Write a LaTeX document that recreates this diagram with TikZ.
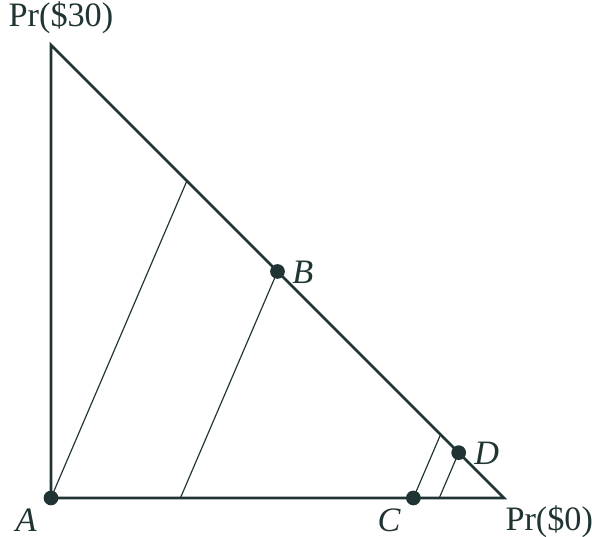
\documentclass[tikz,border=0pt]{standalone}
\usepackage{fontspec}
\setmainfont{Liberation Serif}
\definecolor{ink}{RGB}{33,52,52}
\begin{document}
\begin{tikzpicture}[
    x=8cm, y=8cm,
    edge/.style={draw=ink, line width=1.35pt, line join=miter},
    indiff/.style={draw=ink, line width=0.6pt},
    dot/.style={circle, fill=ink, inner sep=0pt, minimum size=7.4pt},
    lbl/.style={text=ink, font=\fontsize{17.2}{20}\selectfont, inner sep=0pt},
    pt/.style={text=ink, font=\fontsize{17.2}{20}\selectfont\itshape, inner sep=0pt}
]
\useasboundingbox (-0.1126,-0.0861) rectangle (1.1943,1.0993);

% corners of the triangle
\coordinate (top) at (0,1);
\coordinate (right) at (1,0);
\coordinate (A) at (0,0);

% ends of the indifference lines
\coordinate (e1) at (0.3,0.7);
\coordinate (e2) at (2/7,0);
\coordinate (e3) at (0.86,0.14);
\coordinate (e4) at (0.9-0.3/7,0);
\coordinate (B) at (0.5,0.5);
\coordinate (C) at (0.8,0);
\coordinate (D) at (0.9,0.1);

% triangle
\draw[edge] (top) -- (A) -- (right) -- cycle;

% indifference lines
\draw[indiff] (A) -- (e1);
\draw[indiff] (e2) -- (B);
\draw[indiff] (C) -- (e3);
\draw[indiff] (e4) -- (D);

% lotteries
\node[dot] (dA) at (A) {};
\node[dot] (dB) at (B) {};
\node[dot] (dC) at (C) {};
\node[dot] (dD) at (D) {};

% labels
\node[pt] (lA) at (-0.055,-0.05) {A};
\node[pt] (lB) at (0.556,0.499) {B};
\node[pt] (lC) at (0.746,-0.05) {C};
\node[pt] (lD) at (0.962,0.099) {D};
\node[lbl] (p30) at (0.022,1.06) {Pr(\$30)};
\node[lbl] (p0) at (1.1,-0.052) {Pr(\$0)};

\end{tikzpicture}
\end{document}
